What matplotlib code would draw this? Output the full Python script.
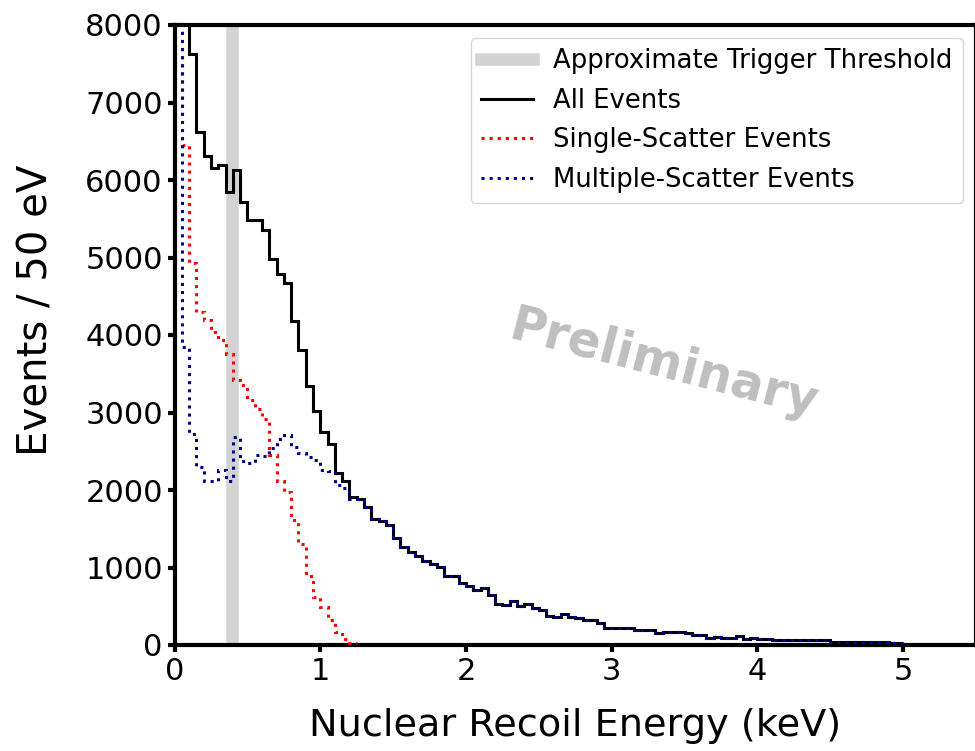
import matplotlib
matplotlib.use('Agg')
import matplotlib.pyplot as plt
import numpy as np

# bin width 50 eV, from 0 to 5 keV
bin_width = 0.05
n_bins = 100

# first 25 bins (0 - 1.25 keV)
all_head = [20000, 10300, 7630, 6620, 6310, 6160, 6190, 5850, 6135, 5710,
            5490, 5490, 5360, 4975, 4787, 4677, 4180, 3806, 3342, 3023,
            2752, 2590, 2224, 2116, 1914]
single_head = [9000, 6450, 4930, 4300, 4200, 4040, 3930, 3755, 3425, 3350,
               3160, 3040, 2910, 2450, 2120, 1975, 1613, 1300, 890, 620,
               490, 320, 164, 74, 30]
multi_head = [12000, 3845, 2720, 2300, 2116, 2116, 2255, 2120, 2680, 2370,
              2345, 2450, 2440, 2540, 2660, 2710, 2550, 2480, 2430, 2390,
              2260, 2250, 2060, 2030, 1885]

# 1.25 - 5 keV: no single scatters left, all events == multiple scatters
tail = [1884, 1777, 1626, 1605, 1545, 1385, 1262, 1205, 1150, 1088,
        1041, 1010, 890, 890, 805, 761, 710, 740, 645, 529,
        516, 568, 507, 525, 473, 452, 378, 357, 396, 366,
        344, 323, 323, 280, 220, 225, 220, 215, 195, 200,
        190, 160, 171, 170, 165, 150, 129, 129, 94, 100,
        94, 95, 116, 81, 85, 81, 78, 65, 70, 62,
        68, 60, 65, 62, 60, 43, 45, 40, 45, 38,
        42, 35, 38, 32, 30]

all_events = np.array(all_head + tail)
single_events = np.array(single_head)  # zero after 1.25 keV, not drawn
multi_events = np.array(multi_head + tail)

threshold = 0.395  # keV

edges = np.arange(n_bins + 1) * bin_width

fig = plt.figure(figsize=(9.75, 7.51), dpi=100)
ax = fig.add_axes([174.6 / 975, 106 / 751, 5.5 * 145.7 / 975, 620 / 751])

ax.axvline(threshold, color='lightgray', lw=9, label='Approximate Trigger Threshold', zorder=1)
ax.stairs(all_events, edges, color='black', lw=2.2, baseline=None,
          label='All Events', zorder=2)
ax.stairs(single_events, edges[:len(single_events) + 1], color='red', lw=2.2, ls=':',
          baseline=None, label='Single-Scatter Events', zorder=3)
ax.stairs(multi_events, edges, color='darkblue', lw=2.2, ls=':', baseline=None,
          label='Multiple-Scatter Events', zorder=4)

ax.set_xlim(0, 5.5)
ax.set_ylim(0, 8000)
ax.set_xticks([0, 1, 2, 3, 4, 5])
ax.set_yticks(np.arange(0, 8001, 1000))

ax.set_xlabel('Nuclear Recoil Energy (keV)', fontsize=27.5, labelpad=16)
ax.set_ylabel('Events / 50 eV', fontsize=29)
ax.yaxis.set_label_coords(-0.148, 0.54)

for s in ax.spines.values():
    s.set_linewidth(3)
ax.tick_params(axis='both', labelsize=22, width=3, length=5)

ax.text(3.36, 3620, 'Preliminary', fontsize=35, fontweight='bold', color='#bfbfbf',
        rotation=-14.5, ha='center', va='center')

ax.legend(loc='upper right', fontsize=18.6, labelspacing=0.52)

fig.savefig('out.png', dpi=100)
